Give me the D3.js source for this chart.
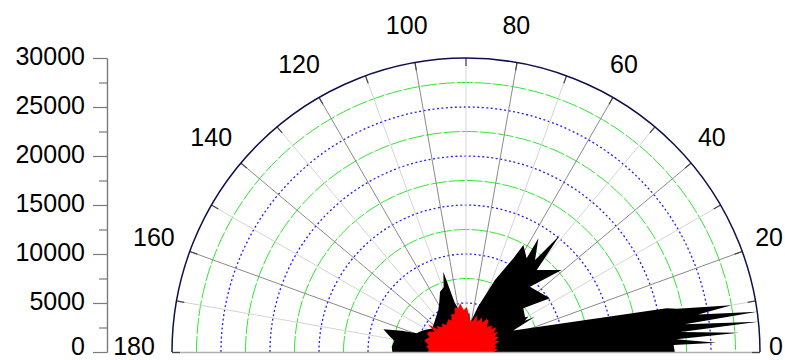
<!DOCTYPE html>
<html><head><meta charset="utf-8">
<script src="https://cdn.jsdelivr.net/npm/d3@7"></script>
<style>
html,body{margin:0;padding:0;background:#fff;}
svg{display:block;font-family:"Liberation Sans",Arial,sans-serif;}
</style></head><body>
<svg id="chart" width="785" height="360"></svg>
<script>
// ---- data ----
const radialTicks = [0, 5000, 10000, 15000, 20000, 25000, 30000];
const radialMinorTicks = [2500, 7500, 12500, 17500, 22500, 27500];
const angleTicks = [0, 20, 40, 60, 80, 100, 120, 140, 160, 180];
const angleMinorTicks = [10, 30, 50, 70, 90, 110, 130, 150, 170];

const blackAngles = [0, 1.9, 2.1, 3.5, 4.05, 5.3, 5.9, 7.2, 7.85, 9.2, 10.0, 11.6, 12.3,
  24.5, 27.1, 28, 29.5, 30.5, 37.3, 32.6, 45.6, 40.6, 49.2, 51.2, 53.1, 57.5, 57.1, 61.8, 63.2,
  68.1, 75, 82, 85, 88, 92, 95, 99, 103, 105.8, 109, 113.3, 118, 123.4, 135, 145, 152, 156, 159.2,
  161.7, 164.6, 168.6, 171, 176, 180];
const blackValues = [21300, 21200, 25600, 21500, 27900, 22000, 30000, 22500, 30000, 24000, 27500, 22000, 20960,
  5300, 7900, 6800, 7300, 7000, 7350, 10170, 9330, 12860, 11050, 15310, 11730, 13750, 11390, 12390, 10700,
  7920, 4800, 3000, 4000, 3800, 3000, 3200, 4200, 5200, 8500, 7000, 6700, 5800, 5130, 4500, 4200, 4800, 5130, 5380,
  6900, 8750, 7900, 7400, 7600, 7500];

const redAngles = [0, 4, 7, 10, 14, 18, 21, 25, 28, 32, 35, 39, 42, 46, 50, 54, 58, 61, 65, 69, 74, 78,
  83, 86, 89, 93, 97, 100, 104, 107, 111, 115, 118, 122, 126, 130, 134, 138, 141, 144, 147, 151, 155,
  158, 162, 165, 169, 172, 176, 180];
const redValues = [2800, 3300, 2900, 3200, 3000, 3600, 3200, 3700, 3300, 3900, 3400, 4000, 3500, 3800,
  3300, 3900, 4000, 3400, 3900, 3300, 3900, 3200, 3300, 3900, 4600, 4300, 5000, 4500, 4700, 4000, 4200,
  3500, 3800, 3600, 3400, 3800, 3500, 4000, 3700, 4800, 3800, 4300, 4400, 4000, 4300, 4400, 3900, 4100,
  3800, 3900];

// ---- layout ----
const cx = 466, cy = 352, R = 294, axisX = 107;
const svg = d3.select("#chart");
const rScale = d3.scaleLinear().domain([0, 30000]).range([0, R]);
const yScale = d3.scaleLinear().domain([0, 30000]).range([cy, cy - R]);
const toRad = a => (90 - a) * Math.PI / 180;
const semi = rr => `M${cx - rr},${cy}A${rr},${rr} 0 0 1 ${cx + rr},${cy}`;

const grid = svg.append("g");
// circles
const circleVals = radialMinorTicks.concat(radialTicks.slice(1, -1)).sort((a, b) => a - b);
circleVals.forEach(v => {
  const isMajor = v % 5000 === 0;
  grid.append("path").attr("d", semi(rScale(v))).attr("fill", "none")
    .attr("stroke", isMajor ? "#1f1fff" : "#2ee82e")
    .attr("stroke-width", isMajor ? 1.3 : 1)
    .attr("stroke-dasharray", isMajor ? "2,2.5" : "16,2");
});
// spokes
angleMinorTicks.concat(angleTicks).forEach(a => {
  if (a === 0 || a === 180) return;
  const t = a * Math.PI / 180;
  grid.append("line")
    .attr("x1", cx).attr("y1", cy)
    .attr("x2", cx + R * Math.cos(t)).attr("y2", cy - R * Math.sin(t))
    .attr("stroke", a % 20 === 0 ? "#8a8a8a" : "#d4d4d4").attr("stroke-width", 1);
});

// data
const blackData = blackAngles.map((a, i) => [a, blackValues[i]]);
const redData = redAngles.map((a, i) => [a, redValues[i]]);
const dataG = svg.append("g").attr("transform", `translate(${cx},${cy})`);
const lineR = d3.lineRadial().angle(d => toRad(d[0])).radius(d => rScale(d[1]));
dataG.append("path").attr("d", lineR([[0, 0]].concat(blackData)) + "Z").attr("fill", "#000");
dataG.append("path").attr("d", lineR([[0, 0]].concat(redData)) + "Z").attr("fill", "#ff0000");

// baseline
svg.append("line").attr("x1", cx - R).attr("x2", cx + R).attr("y1", cy + 0.5).attr("y2", cy + 0.5)
  .attr("stroke", "#b0b0b0").attr("stroke-width", 1.5);
// outer ticks
angleMinorTicks.concat(angleTicks).forEach(a => {
  const t = a * Math.PI / 180;
  const r0 = R - 8;
  svg.append("line")
    .attr("x1", cx + r0 * Math.cos(t)).attr("y1", cy - r0 * Math.sin(t) + (a % 180 === 0 ? 0.5 : 0))
    .attr("x2", cx + R * Math.cos(t)).attr("y2", cy - R * Math.sin(t) + (a % 180 === 0 ? 0.5 : 0))
    .attr("stroke", "#444").attr("stroke-width", 1.2);
});
// outer circle
svg.append("path").attr("d", semi(rScale(30000))).attr("fill", "none")
  .attr("stroke", "#10104a").attr("stroke-width", 1.5);

// angle labels (alphabetic baseline, kept inside the frame)
angleTicks.forEach(a => {
  const t = a * Math.PI / 180;
  const rl = a === 0 ? 310 : 330;
  const nx = a === 0 ? 0 : (a < 90 ? -7 : -2);
  const yb = Math.min(cy - rl * Math.sin(t) + 6.5, 354.5);
  svg.append("text")
    .attr("x", cx + rl * Math.cos(t) + nx)
    .attr("y", yb)
    .attr("text-anchor", "middle")
    .attr("font-size", "25px").attr("fill", "#000")
    .text(a);
});

// left axis
const axMajor = d3.axisLeft(yScale).tickValues(radialTicks).tickSize(14).tickPadding(8)
  .tickSizeOuter(0).tickFormat(d3.format("d"));
const axMinor = d3.axisLeft(yScale).tickValues(radialMinorTicks).tickSize(8).tickSizeOuter(0).tickFormat("");
const gMinor = svg.append("g").attr("transform", `translate(${axisX},0)`).call(axMinor);
const gMajor = svg.append("g").attr("transform", `translate(${axisX},0)`).call(axMajor);
[gMinor, gMajor].forEach(g => {
  g.selectAll("path,line").attr("stroke", "#7a7a7a").attr("stroke-width", 1.2);
});
gMajor.selectAll("text").attr("font-size", "25px").attr("fill", "#000")
  .attr("dy", d => d === 0 ? "0.1em" : "0.26em")
  .attr("font-family", "Liberation Sans, Arial, sans-serif");
</script>
</body></html>
